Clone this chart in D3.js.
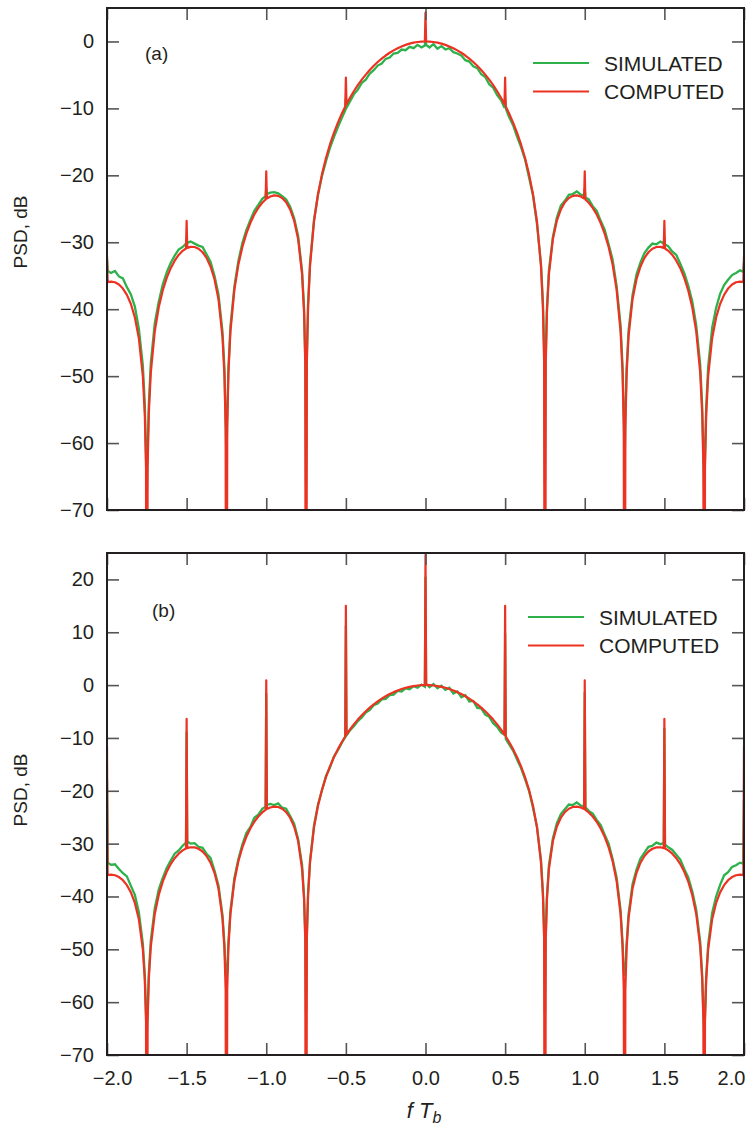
<!DOCTYPE html>
<html>
<head>
<meta charset="utf-8">
<script src="https://cdn.jsdelivr.net/npm/d3@7"></script>
<style>
  body { margin: 0; background: #fff; }
  svg { display: block; font-family: "Liberation Sans", Arial, Helvetica, sans-serif; }
</style>
</head>
<body>
<svg id="chart" width="750" height="1137"></svg>
<script>
//------------------------------------------------------------------------------
// Data: normalised frequency fTb and PSD (dB)
//------------------------------------------------------------------------------
var freq = [
  -2, -1.996, -1.975, -1.95, -1.925, -1.9, -1.875, -1.85, -1.825, -1.8,
  -1.775, -1.7625, -1.755, -1.75, -1.745, -1.7375, -1.725, -1.7, -1.675, -1.65,
  -1.625, -1.6, -1.575, -1.55, -1.525, -1.504, -1.5, -1.496, -1.475, -1.45,
  -1.425, -1.4, -1.375, -1.35, -1.325, -1.3, -1.275, -1.2625, -1.255, -1.25,
  -1.245, -1.2375, -1.225, -1.2, -1.175, -1.15, -1.125, -1.1, -1.075, -1.05,
  -1.025, -1.004, -1, -0.996, -0.975, -0.95, -0.925, -0.9, -0.875, -0.85,
  -0.825, -0.8, -0.775, -0.7625, -0.755, -0.75, -0.745, -0.7375, -0.725, -0.7,
  -0.675, -0.65, -0.625, -0.6, -0.575, -0.55, -0.525, -0.504, -0.5, -0.496,
  -0.475, -0.45, -0.425, -0.4, -0.375, -0.35, -0.325, -0.3, -0.275, -0.25,
  -0.225, -0.2, -0.175, -0.15, -0.125, -0.1, -0.075, -0.05, -0.025, -0.004,
  0,
  0.004, 0.025, 0.05, 0.075, 0.1, 0.125, 0.15, 0.175, 0.2, 0.225,
  0.25, 0.275, 0.3, 0.325, 0.35, 0.375, 0.4, 0.425, 0.45, 0.475,
  0.496, 0.5, 0.504, 0.525, 0.55, 0.575, 0.6, 0.625, 0.65, 0.675,
  0.7, 0.725, 0.7375, 0.745, 0.75, 0.755, 0.7625, 0.775, 0.8, 0.825,
  0.85, 0.875, 0.9, 0.925, 0.95, 0.975, 0.996, 1, 1.004, 1.025,
  1.05, 1.075, 1.1, 1.125, 1.15, 1.175, 1.2, 1.225, 1.2375, 1.245,
  1.25, 1.255, 1.2625, 1.275, 1.3, 1.325, 1.35, 1.375, 1.4, 1.425,
  1.45, 1.475, 1.496, 1.5, 1.504, 1.525, 1.55, 1.575, 1.6, 1.625,
  1.65, 1.675, 1.7, 1.725, 1.7375, 1.745, 1.75, 1.755, 1.7625, 1.775,
  1.8, 1.825, 1.85, 1.875, 1.9, 1.925, 1.95, 1.975, 1.996, 2
]

// computed curve (same in both panels, without the discrete lines)
var computed = [
  -35.99, -35.95, -35.87, -35.98, -36.32, -36.92, -37.86, -39.22, -41.23, -44.33,
  -49.99, -55.86, -63.74, -150, -63.63, -55.61, -49.48, -43.31, -39.71, -37.20,
  -35.32, -33.87, -32.75, -31.90, -31.28, -30.93, -30.88, -30.84, -30.69, -30.71,
  -30.97, -31.49, -32.33, -33.61, -35.52, -38.51, -44.08, -49.89, -57.74, -150,
  -57.59, -49.53, -43.35, -37.07, -33.34, -30.70, -28.70, -27.12, -25.86, -24.86,
  -24.09, -23.60, -23.52, -23.45, -23.16, -23.00, -23.07, -23.40, -24.03, -25.09,
  -26.76, -29.51, -34.81, -40.49, -48.25, -150, -47.99, -39.84, -33.51, -26.90,
  -22.83, -19.82, -17.41, -15.39, -13.65, -12.12, -10.76, -9.73, -9.54, -9.36,
  -8.44, -7.44, -6.53, -5.70, -4.95, -4.26, -3.64, -3.07, -2.56, -2.10,
  -1.69, -1.33, -1.01, -0.74, -0.51, -0.33, -0.18, -0.08, -0.02, -0.00,
  0,
  -0.00, -0.02, -0.08, -0.18, -0.33, -0.51, -0.74, -1.01, -1.33, -1.69,
  -2.10, -2.56, -3.07, -3.64, -4.26, -4.95, -5.70, -6.53, -7.44, -8.44,
  -9.36, -9.54, -9.73, -10.76, -12.12, -13.65, -15.39, -17.41, -19.82, -22.83,
  -26.90, -33.51, -39.84, -47.99, -150, -48.25, -40.49, -34.81, -29.51, -26.76,
  -25.09, -24.03, -23.40, -23.07, -23.00, -23.16, -23.45, -23.52, -23.60, -24.09,
  -24.86, -25.86, -27.12, -28.70, -30.70, -33.34, -37.07, -43.35, -49.53, -57.59,
  -150, -57.74, -49.89, -44.08, -38.51, -35.52, -33.61, -32.33, -31.49, -30.97,
  -30.71, -30.69, -30.84, -30.88, -30.93, -31.28, -31.90, -32.75, -33.87, -35.32,
  -37.20, -39.71, -43.31, -49.48, -55.61, -63.63, -150, -63.74, -55.86, -49.99,
  -44.33, -41.23, -39.22, -37.86, -36.92, -36.32, -35.98, -35.87, -35.95, -35.99
]

var simulatedA = [
  -34.0, -34.3, -34.6, -34.3, -35.1, -35.4, -36.7, -37.8, -39.6, -42.9,
  -48.4, -54.2, -61.8, -68, -61.4, -54.3, -48.1, -42.1, -38.9, -36.3,
  -34.5, -33.1, -32.0, -31.1, -30.7, -30.2, -30.3, -30.1, -29.9, -30.2,
  -30.5, -30.7, -31.8, -32.9, -35.0, -37.8, -43.3, -48.9, -56.8, -63,
  -56.2, -48.8, -42.6, -36.6, -32.8, -30.1, -28.2, -26.7, -25.3, -24.4,
  -23.5, -23.1, -23.0, -22.8, -22.6, -22.5, -22.7, -23.1, -23.6, -24.7,
  -26.4, -29.0, -34.3, -39.9, -47.2, -66, -46.9, -39.2, -33.0, -26.6,
  -22.9, -20.1, -17.9, -15.9, -14.3, -12.8, -11.4, -10.3, -10.2, -9.9,
  -9.0, -7.9, -7.2, -6.2, -5.7, -4.8, -4.3, -3.6, -3.3, -2.6,
  -2.4, -1.8, -1.7, -1.2, -1.3, -0.8, -1.0, -0.5, -0.9, -0.6,
  -0.8,
  -0.5, -0.9, -0.4, -1.1, -0.7, -1.2, -1.0, -1.6, -1.8, -2.1,
  -2.8, -3.0, -3.7, -4.0, -4.9, -5.3, -6.4, -6.9, -8.0, -8.8,
  -9.9, -10.1, -10.0, -11.3, -12.5, -14.2, -15.8, -17.6, -20.3, -23.0,
  -27.3, -33.2, -39.0, -46.5, -66, -47, -39.8, -34.2, -29.2, -26.3,
  -24.5, -23.8, -22.9, -22.8, -22.4, -22.9, -23.0, -23.2, -23.3, -23.6,
  -24.6, -25.3, -26.8, -28.1, -30.3, -32.6, -36.5, -42.4, -48.6, -56,
  -64, -56.5, -49, -43.2, -37.9, -34.8, -33.0, -31.6, -30.8, -30.2,
  -30.3, -29.9, -30.2, -30.4, -30.3, -30.6, -31.4, -31.9, -33.2, -34.6,
  -36.5, -38.8, -42.4, -48.3, -54.5, -61.5, -68, -62, -54.6, -48.6,
  -42.8, -39.8, -37.7, -36.4, -35.6, -34.9, -34.6, -34.2, -34.4, -34.0
]

var simulatedB = [
  -33.4, -33.6, -34.0, -33.9, -34.8, -35.6, -36.2, -38.0, -39.7, -43.0,
  -48.9, -54.8, -62.1, -66, -61.8, -54.6, -48.4, -42.2, -38.7, -36.5,
  -34.6, -33.2, -31.9, -31.3, -30.4, -29.8, -30.0, -29.6, -30.0, -29.9,
  -30.6, -30.8, -31.9, -32.7, -35.1, -37.9, -43.5, -49.0, -54.7, -55,
  -54.3, -48.6, -42.7, -36.5, -32.9, -30.2, -28.0, -26.9, -25.1, -24.5,
  -23.4, -23.0, -22.8, -22.7, -22.5, -22.7, -22.4, -23.2, -23.4, -24.8,
  -26.2, -29.1, -34.0, -40.1, -47.4, -62, -47.1, -39.5, -33.2, -26.5,
  -22.6, -19.9, -17.2, -15.6, -13.5, -12.3, -10.9, -9.8, -9.7, -9.5,
  -8.6, -7.8, -6.8, -6.1, -5.2, -4.7, -3.8, -3.5, -2.7, -2.6,
  -1.9, -1.8, -1.1, -1.2, -0.6, -0.8, -0.2, -0.5, 0.1, -0.3,
  0.2,
  0.3, -0.4, 0.2, -0.6, -0.1, -0.9, -0.5, -1.6, -1.2, -2.3,
  -1.9, -3.1, -3.0, -4.3, -4.4, -5.6, -6.0, -7.2, -7.9, -9.0,
  -9.4, -9.9, -10.2, -11.2, -12.4, -14.1, -15.7, -17.8, -20.0, -23.2,
  -26.8, -33.0, -39.3, -47.0, -62, -47.5, -40.0, -34.1, -29.0, -26.1,
  -24.4, -23.5, -22.6, -22.7, -22.2, -22.8, -22.9, -23.0, -23.1, -23.8,
  -24.3, -25.5, -26.5, -28.3, -30.0, -32.9, -36.4, -42.6, -48.8, -54,
  -55, -54.5, -49.2, -43.4, -37.7, -34.9, -32.8, -31.7, -30.6, -30.4,
  -29.8, -30.1, -29.9, -30.1, -30.2, -30.7, -31.2, -32.1, -33.0, -34.8,
  -36.4, -39.0, -42.5, -48.6, -54.9, -62, -66, -62.5, -55.1, -49.1,
  -43.1, -40.0, -37.8, -36.0, -35.4, -34.4, -34.1, -33.6, -33.8, -33.2
]

// discrete spectral lines (peak values at multiples of 1/2Tb)
var spikeFreq       = [-2, -1.5, -1, -0.5, 0, 0.5, 1, 1.5, 2]
var spikeComputedA  = [-32, -26.8, -19.4, -5.4, 4.3, -5.4, -19.4, -26.8, -32]
var spikeSimulatedA = [-32.5, -29.3, -22.0, -8.5, 1.0, -8.5, -22.0, -29.3, -33]
var spikeComputedB  = [-11.5, -6.4, 0.9, 15.0, 24.6, 15.0, 0.9, -6.4, -11.5]
var spikeSimulatedB = [-18, -8.8, -1.5, 11.3, 20.5, 9.8, -1.3, -8.1, -21.7]

var xTicks  = [-2, -1.5, -1, -0.5, 0, 0.5, 1, 1.5, 2]
var yTicksA = [-70, -60, -50, -40, -30, -20, -10, 0]
var yTicksB = [-70, -60, -50, -40, -30, -20, -10, 0, 10, 20]
var seriesNames = ["SIMULATED", "COMPUTED"]

//------------------------------------------------------------------------------
// Setup
//------------------------------------------------------------------------------
var svg = d3.select("#chart"),
    left = 107,
    right = 744,
    ink = "#231f20",
    green = "#2db14b",
    red = "#ec3323"

var x = d3.scaleLinear().domain([-2, 2]).range([left, right])

// merge a base curve with its spectral lines
function withSpikes(base, spikes) {
  var peaks = new Map(spikeFreq.map(function(f, i){ return [f, spikes[i]] }))
  return freq.map(function(f, i){
    return { f: f, v: peaks.has(f) ? peaks.get(f) : base[i] }
  })
}

var panels = [
  { id: "a", top: 8, bottom: 510, domain: [-70, 5], ticks: yTicksA,
    sim: withSpikes(simulatedA, spikeSimulatedA),
    comp: withSpikes(computed, spikeComputedA),
    tag: "(a)", tagX: 145, tagY: 60, legX: 533, legY: 63, labelY: 232, xLabels: false },
  { id: "b", top: 553, bottom: 1055, domain: [-70, 25], ticks: yTicksB,
    sim: withSpikes(simulatedB, spikeSimulatedB),
    comp: withSpikes(computed, spikeComputedB),
    tag: "(b)", tagX: 152, tagY: 617, legX: 528, legY: 617, labelY: 790, xLabels: true }
]

//------------------------------------------------------------------------------
// Panels
//------------------------------------------------------------------------------
panels.forEach(function(p) {

  var y = d3.scaleLinear().domain(p.domain).range([p.bottom, p.top]),
      g = svg.append("g").attr("class", "panel-" + p.id)

  g.append("clipPath").attr("id", "clip-" + p.id)
    .append("rect")
      .attr("x", left).attr("y", p.top)
      .attr("width", right - left).attr("height", p.bottom - p.top)

  var line = d3.line()
    .x(function(d){ return x(d.f) })
    .y(function(d){ return y(d.v) })

  var curves = g.append("g").attr("clip-path", "url(#clip-" + p.id + ")")

  curves.append("path")
    .datum(p.sim)
    .attr("fill", "none")
    .attr("stroke", green)
    .attr("stroke-width", 2.3)
    .attr("stroke-linejoin", "miter")
    .attr("d", line)

  curves.append("path")
    .datum(p.comp)
    .attr("fill", "none")
    .attr("stroke", red)
    .attr("stroke-width", 2.2)
    .attr("stroke-linejoin", "round")
    .attr("d", line)

  // axes, ticks pointing inwards on all four sides
  var bottomAxis = d3.axisBottom(x).tickValues(xTicks).tickSize(-12).tickPadding(16)
        .tickFormat(p.xLabels ? d3.format(".1f") : ""),
      topAxis = d3.axisTop(x).tickValues(xTicks).tickSize(-12).tickFormat(""),
      leftAxis = d3.axisLeft(y).tickValues(p.ticks).tickSize(-12).tickPadding(13)
        .tickFormat(d3.format("d")),
      rightAxis = d3.axisRight(y).tickValues(p.ticks).tickSize(-12).tickFormat("")

  var axes = [
    [bottomAxis, "translate(0," + p.bottom + ")"],
    [topAxis, "translate(0," + p.top + ")"],
    [leftAxis, "translate(" + left + ",0)"],
    [rightAxis, "translate(" + right + ",0)"]
  ]

  axes.forEach(function(a, k) {
    var ax = g.append("g").attr("transform", a[1]).call(a[0])
    ax.select(".domain").remove()
    ax.selectAll(".tick line").attr("stroke", "#555").attr("stroke-width", 1.6)
    ax.selectAll(".tick text")
      .attr("fill", ink)
      .style("font-size", "20px")
      .style("font-family", "Liberation Sans, Arial, sans-serif")
    if (k == 0 && p.xLabels) {
      // outermost labels are pulled inside the page edges
      ax.selectAll(".tick text")
        .attr("dx", function(d){ return d == -2 ? 5 : d == 2 ? -13 : 0 })
    }
  })

  g.append("rect")
    .attr("x", left).attr("y", p.top)
    .attr("width", right - left).attr("height", p.bottom - p.top)
    .attr("fill", "none")
    .attr("stroke", ink)
    .attr("stroke-width", 2)

  // panel tag
  g.append("text")
    .attr("x", p.tagX).attr("y", p.tagY)
    .attr("fill", ink)
    .style("font-size", "19px")
    .text(p.tag)

  // legend
  var legend = g.append("g").attr("transform", "translate(" + p.legX + "," + p.legY + ")")
  seriesNames.forEach(function(name, i) {
    var row = legend.append("g").attr("transform", "translate(0," + (i * 28.5) + ")")
    row.append("line")
      .attr("x1", 0).attr("x2", 56)
      .attr("stroke", i == 0 ? green : red)
      .attr("stroke-width", 2)
    row.append("text")
      .attr("x", 71).attr("y", 7.5)
      .attr("fill", ink)
      .style("font-size", "21px")
      .text(name)
  })

  // y label
  svg.append("text")
    .attr("transform", "translate(27," + p.labelY + ") rotate(-90)")
    .attr("text-anchor", "middle")
    .attr("fill", ink)
    .style("font-size", "19px")
    .text("PSD, dB")
})

// x label
var xl = svg.append("text")
  .attr("x", 424).attr("y", 1118)
  .attr("text-anchor", "middle")
  .attr("fill", ink)
  .style("font-size", "22px")
  .style("font-style", "italic")
xl.append("tspan").text("f T")
xl.append("tspan").attr("dy", 5).style("font-size", "16px").text("b")
</script>
</body>
</html>
